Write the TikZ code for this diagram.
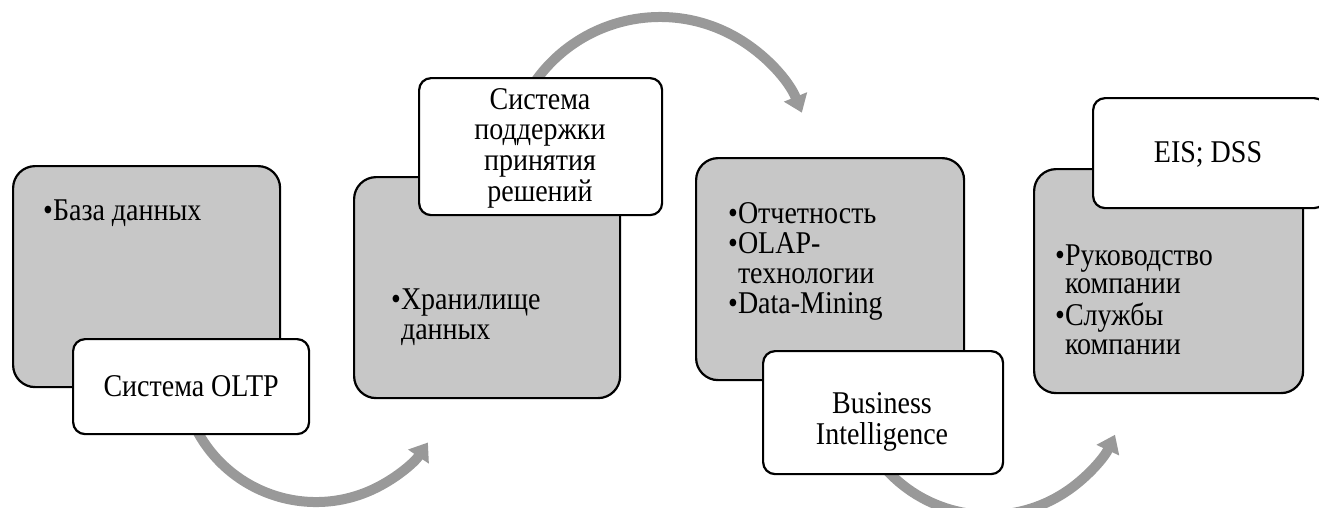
\documentclass[tikz,border=0pt]{standalone}
\usepackage{fontspec}
\usepackage{graphicx}
\setmainfont{Liberation Serif}
\usetikzlibrary{arrows.meta}
\definecolor{boxgray}{RGB}{199,199,199}
\definecolor{arrgray}{RGB}{153,153,153}
\newcommand\vstretch[1]{\scalebox{1}[1.13]{#1}}
\newcommand\bitem{•\hspace{2.5pt}}
\begin{document}
\begin{tikzpicture}[x=1pt,y=-1pt,
  graybox/.style={draw=black, line width=2.2pt, fill=boxgray, rounded corners=22pt, anchor=north west, inner sep=0pt},
  whitebox/.style={draw=black, line width=2.2pt, fill=white, rounded corners=12pt, anchor=north west, inner sep=0pt},
  wtext/.style={inner sep=0pt, align=center, font=\fontsize{28}{27.4}\selectfont},
  itemlist/.style={anchor=base west, inner sep=0pt, font=\fontsize{28}{26.6}\selectfont},
  flow/.style={draw=arrgray, line width=10pt, -{Triangle[width=24pt,length=17pt]}}]
\useasboundingbox (0,0) rectangle (1319,507);
\clip (0,0) rectangle (1319,507);
% arc centres
\coordinate (c1) at (316,367);
\coordinate (c2) at (660,170);
\coordinate (c3) at (989,376);
% connectors (behind boxes)
\draw[flow] (c1) ++(205:135pt) arc[start angle=205, end angle=326, radius=135pt];
\draw[flow] (c2) ++(150:153pt) arc[start angle=150, end angle=22, radius=153pt];
\draw[flow] (c3) ++(215:139pt) arc[start angle=215, end angle=335, radius=139pt];
% gray boxes
\node[graybox, minimum width=267pt, minimum height=221pt] (g1) at (12,165) {};
\node[graybox, minimum width=266pt, minimum height=221pt] (g2) at (353,176) {};
\node[graybox, minimum width=268pt, minimum height=222pt] (g3) at (695,157) {};
\node[graybox, minimum width=269pt, minimum height=224pt] (g4) at (1033,168) {};
% gray box texts
\node[itemlist] (t1) at (43,220) {\vstretch{\begin{tabular}[t]{@{}l@{}l@{}}\bitem&База данных\end{tabular}}};
\node[itemlist] (t2) at (391,309) {\vstretch{\begin{tabular}[t]{@{}l@{}l@{}}\bitem&Хранилище\\&данных\end{tabular}}};
\node[itemlist] (t3) at (728,223) {\vstretch{\begin{tabular}[t]{@{}l@{}l@{}}\bitem&Отчетность\\\bitem&OLAP-\\&технологии\\\bitem&Data-Mining\end{tabular}}};
\node[itemlist, font=\fontsize{28}{25.6}\selectfont] (t4) at (1055,265) {\vstretch{\begin{tabular}[t]{@{}l@{}l@{}}\bitem&Руководство\\&компании\\\bitem&Службы\\&компании\end{tabular}}};
% white boxes
\node[whitebox, minimum width=236pt, minimum height=95pt] (w1) at (72,338) {};
\node[whitebox, minimum width=243pt, minimum height=137pt] (w2) at (418,77) {};
\node[whitebox, minimum width=240pt, minimum height=123pt] (w3) at (762,350) {};
\node[whitebox, minimum width=233pt, minimum height=110pt] (w4) at (1092,97) {};
% white box texts
\node[wtext, anchor=base] (l1) at ([yshift=-9.5pt]w1.center) {\vstretch{Система OLTP}};
\node[wtext, anchor=base] (l2) at (540,109) {\vstretch{\begin{tabular}[t]{@{}c@{}}Система\\поддержки\\принятия\\решений\end{tabular}}};
\node[wtext, anchor=base] (l3) at (882,413) {\vstretch{\begin{tabular}[t]{@{}c@{}}Business\\Intelligence\end{tabular}}};
\node[wtext, anchor=base] (l4) at (1208,162) {\vstretch{EIS; DSS}};
\end{tikzpicture}
\end{document}
